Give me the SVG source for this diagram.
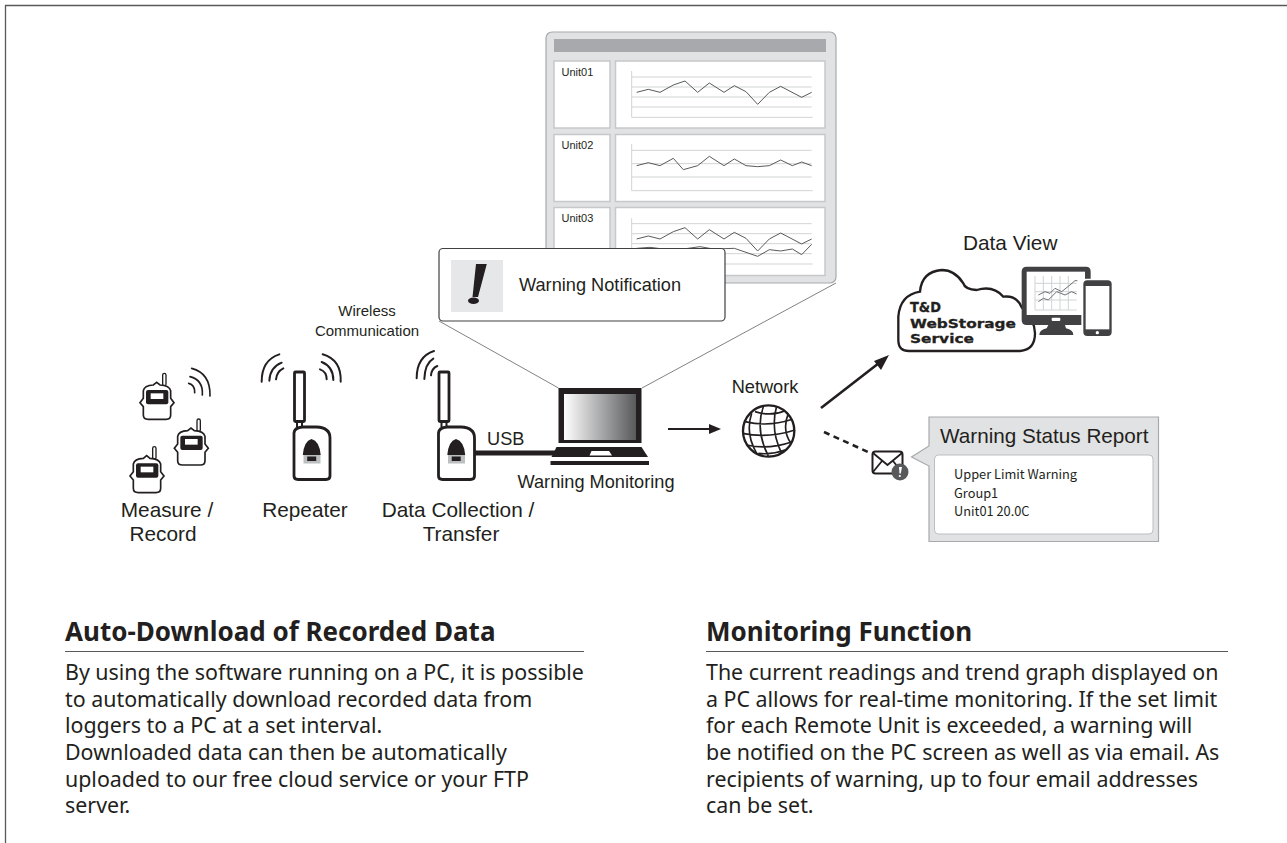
<svg xmlns="http://www.w3.org/2000/svg" width="1287" height="843" viewBox="0 0 1287 843">
<style>
text{font-family:"Liberation Sans",Arial,sans-serif;fill:#231f20}
.body{font-family:"Noto Sans",sans-serif;font-size:21.400px;fill:#231f20}
.head{font-family:"Noto Sans",sans-serif;font-size:26px;font-weight:700;fill:#231f20}
.mail{font-family:"Noto Sans CJK JP","Noto Sans",sans-serif;font-size:12.800px}
.l20{font-size:20.800px}.l18{font-size:18.200px}.l11{font-size:11px}
.k{fill:none;stroke:#231f20;stroke-linecap:round}
.g{fill:none;stroke:#d1d3d4;stroke-width:3}
.tr{fill:none;stroke:#58595b;stroke-width:3}
.cell{fill:#fff;stroke:#c7c8ca;stroke-width:1.500}
.zoomline{stroke:#808285;stroke-width:1;fill:none}
.logo{font-family:"DejaVu Sans",sans-serif;font-weight:700;stroke:#231f20;stroke-width:.3}
</style>
<defs>
<linearGradient id="scr" x1="0" x2="1" y1="0" y2="0"><stop offset="0" stop-color="#fff"/><stop offset="1" stop-color="#58595b"/></linearGradient>
<g id="logger">
<rect x="188" y="100" width="10" height="38" rx="5" fill="#fff" stroke="#231f20" stroke-width="4"/>
<path d="M130 152Q133 136 160 135L170 127L180 135Q208 136 212 152V175L222 188L212 200V225Q212 238 198 238H145Q130 238 130 225V200L120 188L130 175Z" fill="#fff" stroke="#231f20" stroke-width="5"/>
<rect x="138" y="150" width="67" height="43" rx="6" fill="#231f20"/>
<rect x="152" y="160" width="38" height="17" fill="#fff"/>
</g>
<g id="device">
<path d="M441.500 421V427M446.500 421V427" stroke="#231f20" stroke-width="2"/>
<rect x="439" y="372" width="10" height="49.500" rx="1" fill="#fff" stroke="#231f20" stroke-width="2.800"/>
<path d="M438.500 433Q439 427.500 447 427H461Q474.500 427.500 474.500 438V476Q474.500 479.500 470.500 479.500H442.500Q438.500 479.500 438.500 476Z" fill="#fff" stroke="#231f20" stroke-width="2.800"/>
<rect x="448" y="455" width="17" height="8.500" fill="#bcbec0"/>
<path d="M447.300 455Q448.500 441 456 439Q464 441 465.200 455Z" fill="#231f20"/>
<rect x="451.700" y="456.500" width="9" height="4.500" fill="#231f20"/>
</g>
</defs>
<rect width="1287" height="843" fill="#fff"/>
<path id="frame" d="M5.500 843V5.500H1287" fill="none" stroke="#58595b" stroke-width="1.300"/>

<g id="connectors">
<path class="zoomline" d="M439 321L558.500 388M836 283L642 388"/>
<path d="M475 453H556" stroke="#231f20" stroke-width="5" fill="none"/>
<path d="M668 429H711" stroke="#231f20" stroke-width="2.200" fill="none"/>
<path d="M721 429L709 424V434Z" fill="#231f20"/>
<path d="M821 408L879 363" stroke="#231f20" stroke-width="2.600" fill="none"/>
<path d="M889 355L874 361L881 370Z" fill="#231f20"/>
<path d="M824 432L868 452" stroke="#231f20" stroke-width="2.600" stroke-dasharray="6 4.500" fill="none"/>
</g>

<g id="screen">
<rect x="546" y="32" width="290" height="251" rx="6" fill="#e1e2e3" stroke="#a7a9ac" stroke-width="1.200"/>
<rect x="554" y="39" width="272" height="13" fill="#a7a9ac"/>
<rect class="cell" x="554" y="61" width="56" height="67"/><rect class="cell" x="615.500" y="61" width="209.500" height="67"/>
<rect class="cell" x="554" y="134.500" width="56" height="67"/><rect class="cell" x="615.500" y="134.500" width="209.500" height="67"/>
<rect class="cell" x="554" y="207.500" width="56" height="68"/><rect class="cell" x="615.500" y="207.500" width="209.500" height="68"/>
<g transform="translate(430 20) scale(.33333)">
<path class="g" d="M605 153V292H1148M605 171H1145M605 201H1145M605 231H1145M605 261H1145"/>
<path class="tr" d="M620 217L655 208L690 217L730 195L765 183L803 217L838 189L882 217L913 197L948 215L983 253L1018 217L1052 199L1115 232L1145 217"/>
<path class="g" d="M605 372V512H1148M605 391H1145M605 431H1145M605 471H1145"/>
<path class="tr" d="M620 437L655 428L690 437L730 415L760 449L803 437L838 409L882 437L913 417L948 437L983 440L1018 437L1052 420L1087 437L1115 426L1145 437"/>
</g>
<g transform="translate(430 200) scale(.33333)">
<path class="g" d="M605 55V192H1148M605 71H1145M605 101H1145M605 131H1145M605 161H1145"/>
<path class="tr" d="M620 117L655 108L690 117L730 95L765 83L803 117L838 89L882 117L913 97L948 115L983 153L1018 117L1052 99L1115 132L1145 117"/>
<path class="tr" d="M620 145L660 142L700 147L760 147L810 140L850 147L913 145L948 157L983 169L1018 149L1052 153L1087 147L1115 164L1145 133"/>
</g>
<text class="l11" x="561.500" y="76">Unit01</text>
<text class="l11" x="561.500" y="149">Unit02</text>
<text class="l11" x="561.500" y="222">Unit03</text>
</g>

<g id="warning-notification">
<rect x="439" y="248.500" width="286" height="72.500" rx="4" fill="#fff" stroke="#414042" stroke-width="1.200"/>
<rect x="451" y="260" width="52" height="52" fill="#e6e7e8"/>
<path d="M476 264L486.800 264L478 297H472.500Z" fill="#231f20"/>
<ellipse cx="473.500" cy="300.700" rx="5.500" ry="3.200" fill="#231f20"/>
<text class="l18" x="519" y="291">Warning Notification</text>
</g>

<g id="loggers">
<g transform="translate(100 340) scale(.33333)">
<use href="#logger"/>
<use href="#logger" x="103" y="137"/>
<use href="#logger" x="-30" y="220"/>
<path class="k" stroke-width="5" d="M275 85Q332 100 330 168M270 110Q310 120 307 165M266 130Q285 135 284 158"/>
</g>
<text class="l20" x="167" y="517" text-anchor="middle">Measure /</text>
<text class="l20" x="163" y="541" text-anchor="middle">Record</text>
</g>

<g id="repeater">
<use href="#device" x="-144.500"/>
<g transform="translate(100 340) scale(.33333)">
<path class="k" stroke-width="6" d="M485 125Q485 60 538 43M508 122Q510 82 545 68M528 118Q530 95 550 85M668 43Q725 60 722 125M665 66Q700 80 700 120M660 88Q680 95 680 118"/>
</g>
<text class="l20" x="305" y="517" text-anchor="middle">Repeater</text>
</g>

<g id="collector">
<use href="#device"/>
<g transform="translate(370 340) scale(.33333)">
<path class="k" stroke-width="6" d="M140 115Q140 50 192 33M163 117Q165 70 190 56M183 106Q185 85 202 78"/>
</g>
<text class="l20" x="458" y="517" text-anchor="middle">Data Collection /</text>
<text class="l20" x="461" y="541" text-anchor="middle">Transfer</text>
</g>

<text class="l11" style="font-size:15px" x="367" y="316" text-anchor="middle">Wireless</text>
<text class="l11" style="font-size:15px" x="367" y="336" text-anchor="middle">Communication</text>
<text class="l18" x="487" y="445">USB</text>

<g id="laptop">
<rect x="558.500" y="388" width="83" height="55" fill="#231f20"/>
<rect x="564" y="394" width="72" height="46" fill="url(#scr)"/>
<path d="M556.500 447H641.500L648 457H551.500Z" fill="#231f20"/>
<path d="M591.500 451H609L612 455.500H589.500Z" fill="#fff"/>
<rect x="550.500" y="461" width="98.500" height="4" fill="#231f20"/>
<text class="l18" x="596" y="488" text-anchor="middle">Warning Monitoring</text>
</g>

<g id="network">
<text class="l18" x="765" y="393" text-anchor="middle">Network</text>
<g transform="translate(735 400) scale(.33333)" fill="none" stroke="#231f20">
<circle cx="101" cy="93" r="77" stroke-width="7"/>
<path stroke-width="5" d="M60 35Q110 50 150 32M30 65Q100 82 172 58M22 100Q100 116 180 90M35 135Q100 150 172 125M70 160Q110 165 150 150M50 40Q30 100 65 160M85 20Q60 90 100 168M125 18Q105 90 140 160M160 40Q140 90 168 130"/>
</g>
</g>

<g id="data-view">
<text class="l20" x="963" y="250">Data View</text>
<g transform="translate(880 220) scale(.33333)">
<path d="M425 262Q410 225 370 230Q340 195 290 210Q255 208 250 190Q225 150 185 150Q125 155 120 215Q60 225 55 290V360Q55 395 90 393H420Q465 390 465 340Q465 300 425 262Z" fill="#fff" stroke="#231f20" stroke-width="7"/>
<path d="M425 155Q425 140 440 140H618Q632 140 632 155V300Q632 315 618 315H440Q425 315 425 300Z" fill="#414042"/>
<rect x="440" y="155" width="175" height="130" fill="#fff"/>
<path d="M505 315H555L558 325Q580 330 580 345H478Q478 330 500 325Z" fill="#414042"/>
<rect x="515" y="293" width="26" height="10" rx="3" fill="#fff"/>
<path d="M465 168V270H590M490 168V270M515 168V270M540 168V270M565 168V270M465 190H590M465 215H590M465 240H590" fill="none" stroke="#d1d3d4" stroke-width="3"/>
<path d="M475 225L495 215L510 220L525 205L545 215L570 195L585 182H592M475 245L490 235L505 240L530 215L555 225L575 215L590 222" fill="none" stroke="#6d6e71" stroke-width="3"/>
<rect x="604" y="176" width="97" height="178" rx="14" fill="#fff"/>
<rect x="610" y="181" width="85" height="167" rx="12" fill="#414042"/>
<rect x="617" y="198" width="71" height="130" fill="#fff"/>
<circle cx="652" cy="338" r="5" fill="#fff"/>
</g>
<text class="logo" x="910" y="312" style="font-size:14px" textLength="31" lengthAdjust="spacingAndGlyphs">T&amp;D</text>
<text class="logo" x="910" y="328" style="font-size:12.500px" textLength="106" lengthAdjust="spacingAndGlyphs">WebStorage</text>
<text class="logo" x="910" y="342.500" style="font-size:12.500px" textLength="64" lengthAdjust="spacingAndGlyphs">Service</text>
</g>

<g id="mail">
<rect x="872.500" y="451.500" width="30" height="22" rx="3" fill="#fff" stroke="#231f20" stroke-width="2"/>
<path d="M873 453L887.500 465L902 453M873 472L882 461M902 472L893 461" fill="none" stroke="#231f20" stroke-width="1.800"/>
<circle cx="900" cy="472" r="8.500" fill="#58595b"/>
<path d="M899 467H902L900.800 473.500H899.500Z" fill="#fff"/><circle cx="899.800" cy="476" r="1.100" fill="#fff"/>
</g>

<g id="warning-report">
<path d="M929 417H1158.500V541.500H929V466L911.500 457L929 446Z" fill="#e1e2e3" stroke="#a7a9ac" stroke-width="1.200"/>
<rect x="934.500" y="455" width="218.500" height="79" rx="4" fill="#fff" stroke="#bcbec0"/>
<text x="940" y="443" style="font-size:20.700px">Warning Status Report</text>
<text class="mail" x="954" y="479">Upper Limit Warning</text>
<text class="mail" x="954" y="498">Group1</text>
<text class="mail" x="954" y="516">Unit01 20.0C</text>
</g>

<g id="left-text">
<text class="head" x="65" y="641">Auto-Download of Recorded Data</text>
<path d="M65 651.500H584" stroke="#58595b" stroke-width="1.200"/>
<text class="body" x="65" y="680">By using the software running on a PC, it is possible</text>
<text class="body" x="65" y="706.500">to automatically download recorded data from</text>
<text class="body" x="65" y="733">loggers to a PC at a set interval.</text>
<text class="body" x="65" y="760">Downloaded data can then be automatically</text>
<text class="body" x="65" y="786.500">uploaded to our free cloud service or your FTP</text>
<text class="body" x="65" y="813">server.</text>
</g>
<g id="right-text">
<text class="head" x="706" y="641">Monitoring Function</text>
<path d="M706 651.500H1228" stroke="#58595b" stroke-width="1.200"/>
<text class="body" x="706" y="680">The current readings and trend graph displayed on</text>
<text class="body" x="706" y="706.500">a PC allows for real-time monitoring. If the set limit</text>
<text class="body" x="706" y="733">for each Remote Unit is exceeded, a warning will</text>
<text class="body" x="706" y="760">be notified on the PC screen as well as via email. As</text>
<text class="body" x="706" y="786.500">recipients of warning, up to four email addresses</text>
<text class="body" x="706" y="813">can be set.</text>
</g>
</svg>
